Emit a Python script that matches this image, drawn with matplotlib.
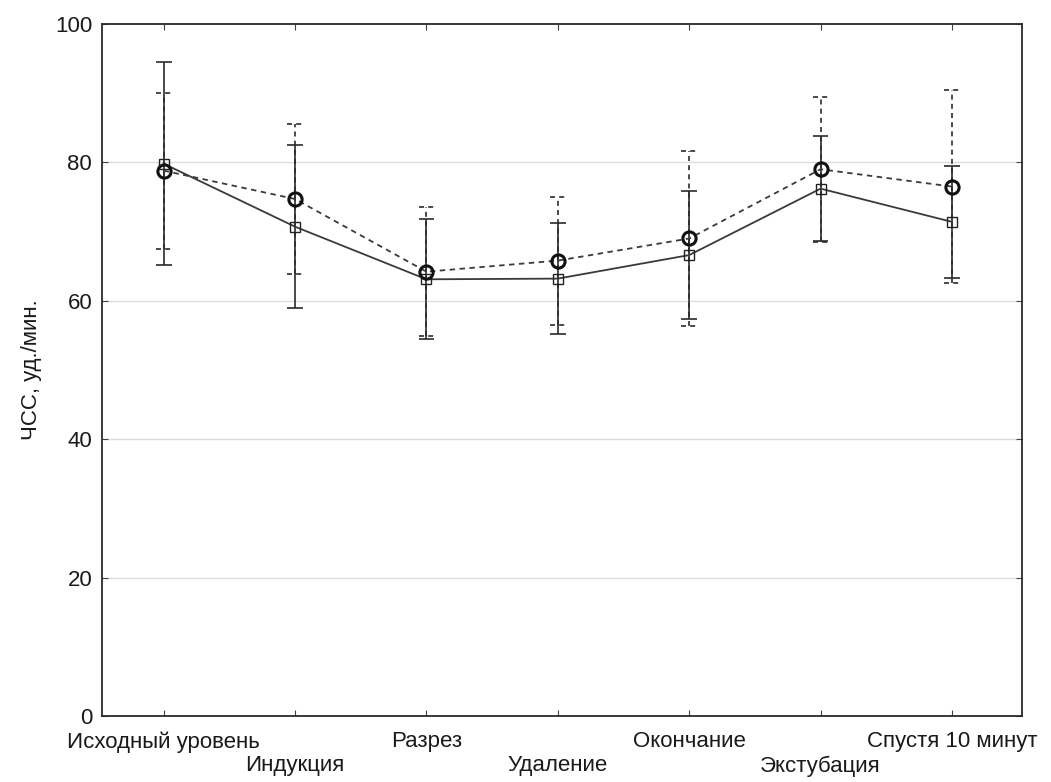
import matplotlib
matplotlib.use("Agg")
import matplotlib.pyplot as plt
import numpy as np

plt.rcParams['font.family'] = ['Liberation Sans', 'DejaVu Sans']

stages = ["Исходный уровень", "Индукция", "Разрез", "Удаление",
          "Окончание", "Экстубация", "Спустя 10 минут"]

# group 1 (squares, solid)
mean_a = [79.8, 70.7, 63.1, 63.2, 66.6, 76.2, 71.4]
sd_a = [14.7, 11.8, 8.65, 8.0, 9.25, 7.6, 8.05]

# group 2 (circles, dashed)
mean_b = [78.8, 74.7, 64.2, 65.8, 69.0, 79.0, 76.5]
sd_b = [11.25, 10.8, 9.3, 9.25, 12.65, 10.5, 14.0]

yticks = [0, 20, 40, 60, 80, 100]

fig = plt.figure(figsize=(10.51, 7.82), dpi=100)
ax = fig.add_axes([0.097, 0.0844, 0.875, 0.885])

x = np.arange(len(stages))
cap = 0.06
dark = "#2b2b2b"
dash = (0, (3, 2.5))

for yv in (20, 40, 60, 80):
    ax.axhline(yv, color="#dcdcdc", lw=1.0, zorder=0)

def bars(means, sds, ls, z):
    m = np.asarray(means)
    s = np.asarray(sds)
    lo, hi = m - s, m + s
    ax.vlines(x, lo, hi, colors=dark, linestyles=ls, lw=1.2, zorder=z)
    ax.hlines(lo, x - cap, x + cap, colors=dark, linestyles=ls, lw=1.2, zorder=z)
    ax.hlines(hi, x - cap, x + cap, colors=dark, linestyles=ls, lw=1.2, zorder=z)

bars(mean_b, sd_b, dash, 2)
bars(mean_a, sd_a, "solid", 3)

ax.plot(x, mean_b, linestyle=dash, color="#3a3a3a", lw=1.3, zorder=4)
ax.plot(x, mean_a, linestyle="-", color="#3a3a3a", lw=1.3, zorder=4)
ax.plot(x, mean_a, linestyle="none", marker="s", ms=7.5, mfc="none",
        mec="#222222", mew=1.0, zorder=5)
ax.plot(x, mean_b, linestyle="none", marker="o", ms=9.5, mfc="none",
        mec="#111111", mew=2.2, zorder=6)

ax.set_xlim(-0.47, 6.53)
ax.set_ylim(0, 100)
ax.set_yticks(yticks)
ax.set_yticklabels([str(v) for v in yticks])
ax.set_xticks(x)
ax.set_xticklabels([s if i % 2 == 0 else "\n" + s for i, s in enumerate(stages)])

ax.tick_params(axis="both", direction="in", length=4, width=0.8,
               top=True, right=True, labelsize=16, colors="#444444",
               labelcolor="#1a1a1a")
ax.tick_params(axis="x", pad=11)
ax.tick_params(axis="y", pad=7)
for sp in ax.spines.values():
    sp.set_color("#2a2a2a")
    sp.set_linewidth(1.3)

ax.set_ylabel("ЧСС, уд./мин.", fontsize=16, color="#1a1a1a", labelpad=9)

fig.savefig("out.png", dpi=100)
